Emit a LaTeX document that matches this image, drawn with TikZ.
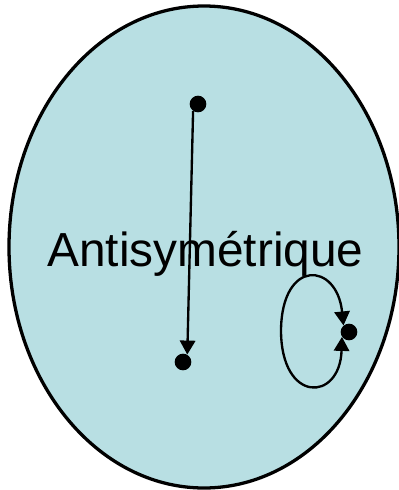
\documentclass[tikz,border=0pt]{standalone}
\usepackage{fontspec}
\setmainfont{Liberation Sans}
\usetikzlibrary{arrows.meta}
\definecolor{setfill}{RGB}{184,223,227}
\tikzset{
  pt/.style={circle,fill=black,inner sep=0pt,minimum size=0.5cm},
  rel/.style={line width=2pt,-{Triangle[length=0.42cm,width=0.46cm]}},
  loopback/.style={line width=2pt,{Triangle[length=0.42cm,width=0.46cm]}-{Triangle[length=0.42cm,width=0.46cm]}}
}
\begin{document}
\begin{tikzpicture}[x=0.03cm,y=-0.03cm]
  \useasboundingbox[clip] (0,0) rectangle (399,490);

  % the set
  \draw[fill=setfill,line width=2.8pt] (204,247) ellipse [x radius=195,y radius=241];
  \node[anchor=base,font=\fontsize{40.8}{48}\selectfont] (name) at (205.5,266) {Antisymétrique};

  % elements
  \node[pt] (a) at (198,104) {};
  \node[pt] (b) at (183,362) {};
  \node[pt] (c) at (349,332) {};

  % relation
  \draw[rel] (a.235) -- (b.60);
  \draw[loopback]
    (c.130) .. controls (337,262) and (282,258) .. (281,330)
            .. controls (281,404) and (340,402) .. (c.215);
\end{tikzpicture}
\end{document}
